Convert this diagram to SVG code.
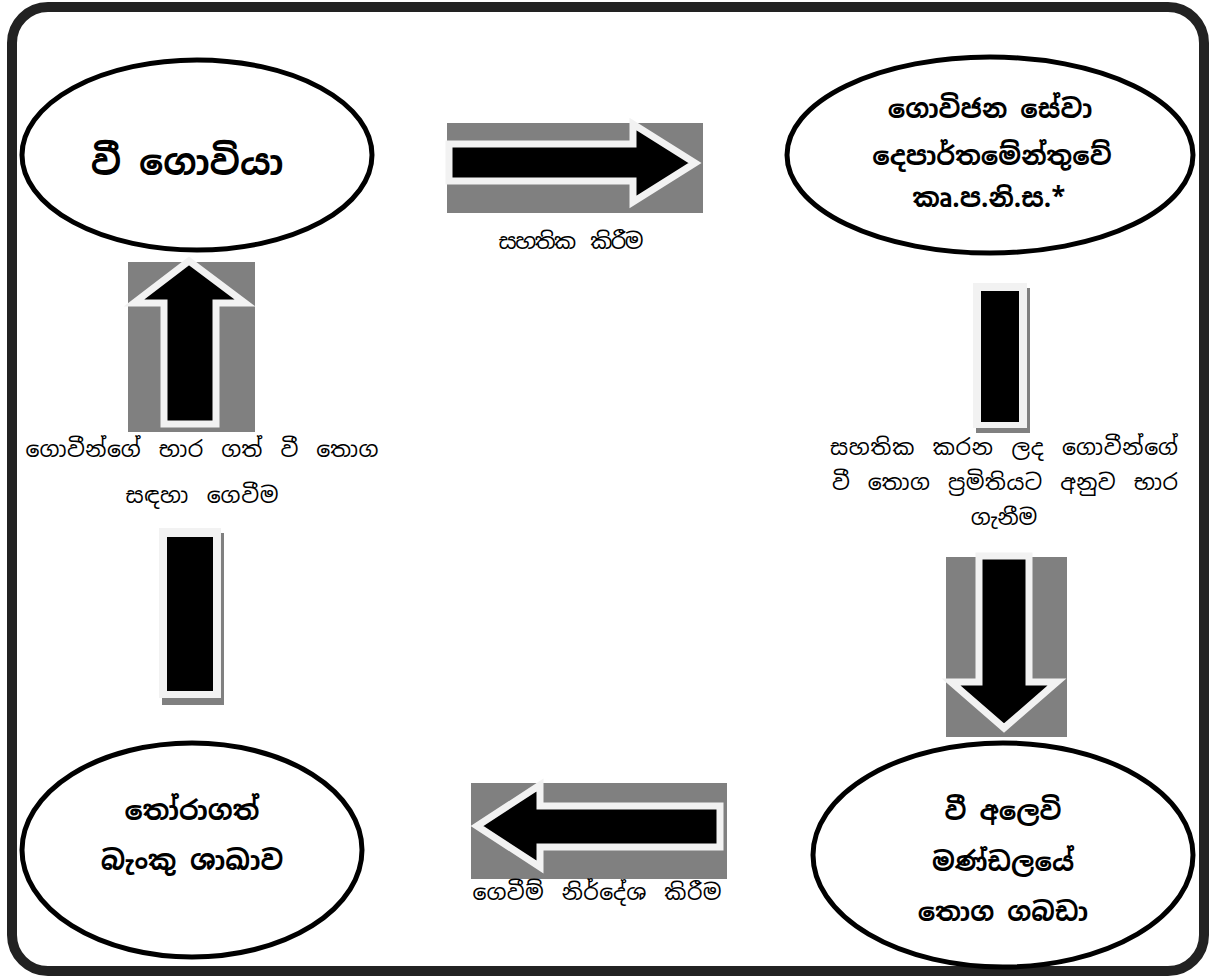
<svg xmlns="http://www.w3.org/2000/svg" width="1215" height="978" viewBox="0 0 1215 978">
<style>
.node{fill:#fff;stroke:#000;stroke-width:5}
.t{font-family:"Noto Sans Sinhala","Iskoola Pota","Noto Sans",sans-serif;fill:#000;text-anchor:middle}
.b{font-weight:bold;font-size:26px}
.lbl{font-size:22px;word-spacing:6px}
.bg{fill:#808080}
.arr{fill:#000;stroke:#f2f2f2;stroke-width:7;stroke-linejoin:miter}
.lt{fill:#f2f2f2}
</style>
<rect x="12" y="7" width="1192" height="964" rx="36" fill="#fff" stroke="#222" stroke-width="10"/>
<g id="connectors">
  <g id="c-right">
    <rect class="bg" x="447" y="123" width="256" height="90"/>
    <path class="arr" d="M449,144 L633,144 L633,124 L695,163 L633,202 L633,181 L449,181 Z"/>
    <text class="t lbl" x="571" y="249" textLength="145" lengthAdjust="spacing">සහතික කිරීම</text>
  </g>
  <g id="c-down">
    <rect class="bg" x="976" y="288" width="54" height="145"/>
    <rect class="lt" x="973" y="283" width="54" height="145"/>
    <rect fill="#000" x="981" y="291" width="38" height="131"/>
    <text class="t lbl" x="1004" y="455" textLength="348" lengthAdjust="spacing">සහතික කරන ලද ගොවීන්ගේ</text>
    <text class="t lbl" x="1005" y="490" textLength="346" lengthAdjust="spacing">වී තොග ප්‍රමිතියට අනුව භාර</text>
    <text class="t lbl" x="1004" y="525">ගැනීම</text>
    <rect class="bg" x="946" y="557" width="121" height="180"/>
    <path class="arr" d="M979,556 L1029,556 L1029,682 L1057,682 L1004,728 L951,682 L979,682 Z"/>
  </g>
  <g id="c-left">
    <rect class="bg" x="471" y="783" width="256" height="96"/>
    <path class="arr" d="M720,806 L540,806 L540,785 L477,826 L540,867 L540,847 L720,847 Z"/>
    <text class="t lbl" x="597" y="900" textLength="249" lengthAdjust="spacing">ගෙවීම් නිර්දේශ කිරීම</text>
  </g>
  <g id="c-up">
    <rect class="bg" x="162" y="533" width="62" height="172"/>
    <rect class="lt" x="159" y="528" width="62" height="170"/>
    <rect fill="#000" x="167" y="537" width="46" height="154"/>
    <text class="t lbl" x="202" y="457" textLength="353" lengthAdjust="spacing">ගොවීන්ගේ භාර ගත් වී තොග</text>
    <text class="t lbl" x="202" y="503" textLength="153" lengthAdjust="spacing">සඳහා ගෙවීම</text>
    <rect class="bg" x="128" y="262" width="127" height="170"/>
    <path class="arr" d="M164,424 L164,303 L134,303 L189,261 L245,303 L216,303 L216,424 Z"/>
  </g>
</g>
<g id="n-farmer">
  <ellipse class="node" cx="197" cy="155" rx="175" ry="95"/>
  <text class="t" x="187" y="175" style="font-weight:bold;font-size:36px">වී ගොවියා</text>
</g>
<g id="n-dept">
  <ellipse class="node" cx="990" cy="155" rx="203" ry="98"/>
  <text class="t b" x="990" y="118">ගොවිජන සේවා</text>
  <text class="t b" x="992" y="165">දෙපාර්තමේන්තුවේ</text>
  <text class="t b" x="989" y="207">කෘ.ප.නි.ස.*</text>
</g>
<g id="n-board">
  <ellipse class="node" cx="1003" cy="855" rx="190" ry="112"/>
  <text class="t b" x="1003" y="820">වී අලෙවි</text>
  <text class="t b" x="1003" y="871">මණ්ඩලයේ</text>
  <text class="t b" x="1003" y="921">තොග ගබඩා</text>
</g>
<g id="n-bank">
  <ellipse class="node" cx="192" cy="850" rx="170" ry="107"/>
  <text class="t b" x="192" y="820" style="font-size:27px">තෝරාගත්</text>
  <text class="t b" x="192" y="870" style="font-size:27px">බැංකු ශාඛාව</text>
</g>
</svg>
